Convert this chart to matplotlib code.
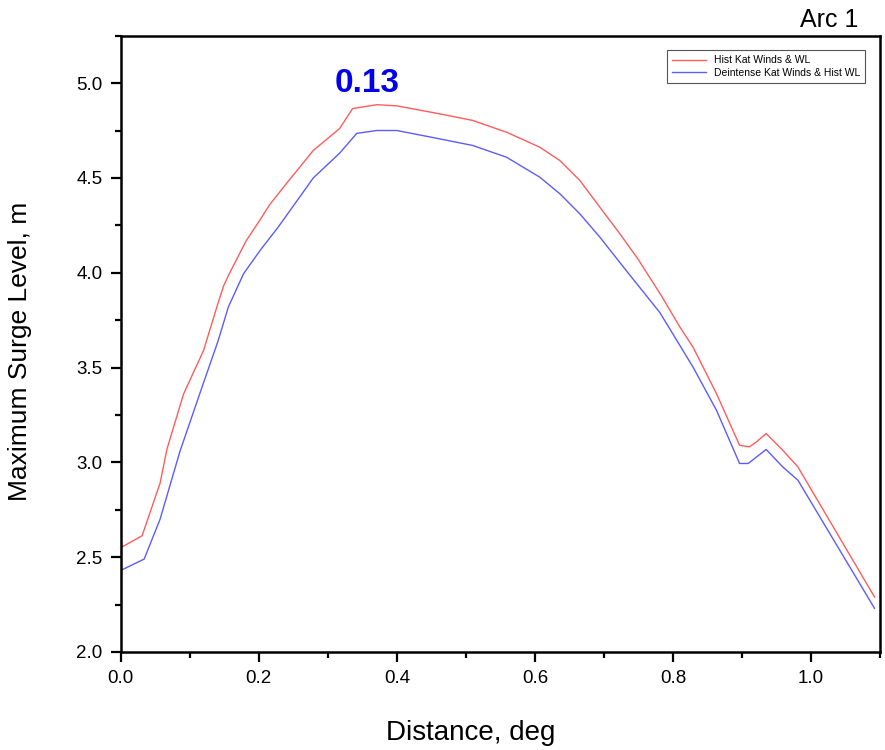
import matplotlib.pyplot as plt
from matplotlib.ticker import MultipleLocator

# ---------------------------------------------------------
# DATA
# ---------------------------------------------------------
dist_hist = [0.0, 0.031, 0.057, 0.067, 0.091, 0.12, 0.141, 0.149, 0.158, 0.182,
             0.202, 0.216, 0.24, 0.279, 0.317, 0.336, 0.371, 0.40, 0.462, 0.51,
             0.559, 0.607, 0.636, 0.665, 0.694, 0.723, 0.749, 0.783, 0.81, 0.829,
             0.863, 0.8965, 0.911, 0.921, 0.935, 0.959, 0.981, 1.092]
surge_hist = [2.55, 2.613, 2.89, 3.07, 3.36, 3.59, 3.84, 3.93, 4.00, 4.17,
              4.28, 4.36, 4.47, 4.645, 4.76, 4.866, 4.886, 4.88, 4.838, 4.803,
              4.741, 4.662, 4.592, 4.487, 4.346, 4.206, 4.074, 3.88, 3.714, 3.608,
              3.363, 3.09, 3.082, 3.108, 3.152, 3.064, 2.976, 2.29]

dist_deint = [0.0, 0.034, 0.057, 0.086, 0.12, 0.141, 0.156, 0.178, 0.202, 0.228,
              0.279, 0.317, 0.342, 0.371, 0.40, 0.462, 0.51, 0.559, 0.607, 0.636,
              0.665, 0.694, 0.737, 0.781, 0.829, 0.863, 0.8965, 0.909, 0.935, 0.959,
              0.981, 1.092]
surge_deint = [2.43, 2.49, 2.70, 3.06, 3.42, 3.64, 3.82, 3.995, 4.118, 4.24,
               4.50, 4.63, 4.735, 4.75, 4.75, 4.706, 4.671, 4.609, 4.504, 4.417,
               4.311, 4.188, 3.99, 3.79, 3.503, 3.275, 2.994, 2.994, 3.068, 2.976,
               2.906, 2.23]

label_hist = "Hist Kat Winds & WL"
label_deint = "Deintense Kat Winds & Hist WL"
diff_text = "0.13"
panel_title = "Arc 1"

# ---------------------------------------------------------
# PLOT
# ---------------------------------------------------------
plt.rcParams["font.family"] = ["Liberation Sans", "DejaVu Sans"]

fig = plt.figure(figsize=(8.85, 7.5), dpi=100)
ax = fig.add_axes([0.1364, 0.1307, 0.858, 0.8217])

ax.plot(dist_hist, surge_hist, color="#ff5c5c", linewidth=1.0, label=label_hist)
ax.plot(dist_deint, surge_deint, color="#5c5cff", linewidth=1.0, label=label_deint)

ax.set_xlim(0, 1.1)
ax.set_ylim(2.0, 5.25)
ax.xaxis.set_major_locator(MultipleLocator(0.2))
ax.xaxis.set_minor_locator(MultipleLocator(0.1))
ax.yaxis.set_major_locator(MultipleLocator(0.5))
ax.yaxis.set_minor_locator(MultipleLocator(0.25))
ax.xaxis.set_major_formatter(lambda v, p: f"{v:.1f}")
ax.yaxis.set_major_formatter(lambda v, p: f"{v:.1f}")

ax.tick_params(which="major", direction="out", length=7, width=1.6, labelsize=13.5, pad=6)
ax.tick_params(which="minor", direction="out", length=4, width=1.6)
for s in ax.spines.values():
    s.set_linewidth(1.8)

ax.set_xlabel("Distance, deg", fontsize=20)
ax.xaxis.set_label_coords(0.461, -0.131)
ax.xaxis.label.set_va("center")
ax.set_ylabel("Maximum Surge Level, m", fontsize=19)
ax.yaxis.set_label_coords(-0.133, 0.488)
ax.yaxis.label.set_va("center")

ax.text(0.357, 5.0, diff_text, color="#0000ee", fontsize=24, fontweight="bold",
        ha="center", va="center")
fig.text(0.97, 0.973, panel_title, fontsize=18, ha="right", va="center")

leg = ax.legend(loc="upper right", fontsize=7.5, fancybox=False, framealpha=1,
                edgecolor="#555555", borderaxespad=1.4, handlelength=3.2,
                labelspacing=0.2, borderpad=0.5)
leg.get_frame().set_linewidth(0.8)

fig.savefig("out.png", dpi=100)
